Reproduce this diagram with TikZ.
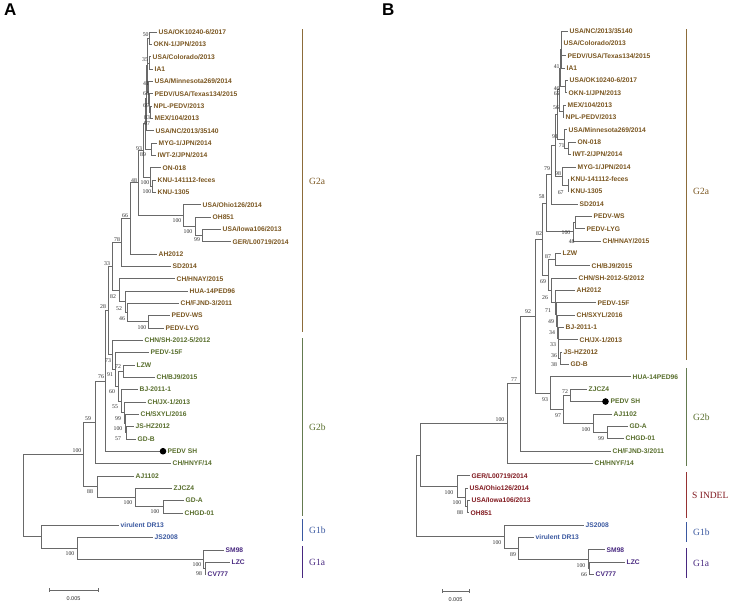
\documentclass[tikz,border=0pt]{standalone}
\usepackage{fontspec}
\setmainfont{Liberation Serif}
\newfontfamily\lsans{Liberation Sans}
\usetikzlibrary{calc}
\definecolor{cA}{RGB}{122,86,32}
\definecolor{cB}{RGB}{88,110,44}
\definecolor{cBl}{RGB}{58,88,160}
\definecolor{cPu}{RGB}{72,40,128}
\definecolor{cRd}{RGB}{128,24,30}
\definecolor{brc}{RGB}{105,105,105}
\definecolor{bsc}{RGB}{45,45,45}
\definecolor{barA}{RGB}{140,108,58}
\definecolor{barB}{RGB}{100,122,80}
\definecolor{barR}{RGB}{150,50,50}
\tikzset{
  br/.style={draw=brc, line width=0.65pt},
  leaf/.style={anchor=west, inner xsep=1.5pt, inner ysep=0pt, font=\lsans\bfseries\fontsize{6.7}{7}\selectfont, text height=4.8pt, text depth=0pt},
  bsl/.style={inner sep=0pt, text=bsc, font=\fontsize{5.8}{6}\selectfont},
  grp/.style={anchor=west, inner sep=0pt, font=\fontsize{9.5}{10}\selectfont},
  gbar/.style={line width=0.9pt},
  scl/.style={inner sep=0pt, font=\lsans\fontsize{5.5}{6}\selectfont, text=bsc},
  dotpt/.style={fill=black}
}
\newcommand\lfA[5]{\node[leaf,text=#5] (#1) at (#3,{32+12.33*#2}) {#4};}
\newcommand\lfB[5]{\node[leaf,text=#5] (#1) at (#3,{31+12.35*#2}) {#4};}
\newcommand\nd[5]{%
  \coordinate (tmpm) at ($(#3.center)!.5!(#4.center)$);
  \coordinate (#1) at ($(#2,0)!(tmpm)!(#2,10)$);
  \foreach \c in {#5}{\draw[br] (#1) |- (\c);}%
}
\newcommand\bs[3]{\node[bsl] at (#1,#2) {#3};}
\begin{document}
\begin{tikzpicture}[x=1pt,y=-1pt]
\useasboundingbox (0,0) rectangle (731,603);
\fill[white] (0,0) rectangle (731,603);
% panel letters
\node[anchor=north west, inner sep=0pt, font=\lsans\bfseries\fontsize{17}{17}\selectfont] (pA) at (4,4) {A};
\node[anchor=north west, inner sep=0pt, font=\lsans\bfseries\fontsize{17}{17}\selectfont] (pB) at (382,4) {B};
% ================= Panel A leaves
\lfA{A0}{0}{157}{USA/OK10240-6/2017}{cA}
\lfA{A1}{1}{152}{OKN-1/JPN/2013}{cA}
\lfA{A2}{2}{151}{USA/Colorado/2013}{cA}
\lfA{A3}{3}{153}{IA1}{cA}
\lfA{A4}{4}{153}{USA/Minnesota269/2014}{cA}
\lfA{A5}{5}{153}{PEDV/USA/Texas134/2015}{cA}
\lfA{A6}{6}{152}{NPL-PEDV/2013}{cA}
\lfA{A7}{7}{153}{MEX/104/2013}{cA}
\lfA{A8}{8}{154}{USA/NC/2013/35140}{cA}
\lfA{A9}{9}{157}{MYG-1/JPN/2014}{cA}
\lfA{A10}{10}{156}{IWT-2/JPN/2014}{cA}
\lfA{A11}{11}{161}{ON-018}{cA}
\lfA{A12}{12}{156}{KNU-141112-feces}{cA}
\lfA{A13}{13}{156}{KNU-1305}{cA}
\lfA{A14}{14}{201}{USA/Ohio126/2014}{cA}
\lfA{A15}{15}{211}{OH851}{cA}
\lfA{A16}{16}{221}{USA/Iowa106/2013}{cA}
\lfA{A17}{17}{231}{GER/L00719/2014}{cA}
\lfA{A18}{18}{157}{AH2012}{cA}
\lfA{A19}{19}{171}{SD2014}{cA}
\lfA{A20}{20}{175}{CH/HNAY/2015}{cA}
\lfA{A21}{21}{188}{HUA-14PED96}{cA}
\lfA{A22}{22}{179}{CH/FJND-3/2011}{cA}
\lfA{A23}{23}{170}{PEDV-WS}{cA}
\lfA{A24}{24}{164}{PEDV-LYG}{cA}
\lfA{A25}{25}{143}{CHN/SH-2012-5/2012}{cB}
\lfA{A26}{26}{149}{PEDV-15F}{cB}
\lfA{A27}{27}{135}{LZW}{cB}
\lfA{A28}{28}{155}{CH/BJ9/2015}{cB}
\lfA{A29}{29}{138}{BJ-2011-1}{cB}
\lfA{A30}{30}{146}{CH/JX-1/2013}{cB}
\lfA{A31}{31}{139}{CH/SXYL/2016}{cB}
\lfA{A32}{32}{134}{JS-HZ2012}{cB}
\lfA{A33}{33}{136}{GD-B}{cB}
\coordinate (A34) at (163,{32+12.33*34});
\node[leaf,text=cB] (A34t) at (166,{32+12.33*34}) {PEDV SH};
\lfA{A35}{35}{171}{CH/HNYF/14}{cB}
\lfA{A36}{36}{134}{AJ1102}{cB}
\lfA{A37}{37}{172}{ZJCZ4}{cB}
\lfA{A38}{38}{184}{GD-A}{cB}
\lfA{A39}{39}{183}{CHGD-01}{cB}
\lfA{A40}{40}{119}{virulent DR13}{cBl}
\lfA{A41}{41}{153}{JS2008}{cBl}
\lfA{A42}{42}{224}{SM98}{cPu}
\lfA{A43}{43}{230}{LZC}{cPu}
\lfA{A44}{44}{206}{CV777}{cPu}
% ================= Panel A internal nodes
\nd{a50}{149.5}{A0}{A1}{A0,A1}
\nd{a35}{149.5}{A2}{A3}{A2,A3}
\nd{a83}{150.5}{A6}{A7}{A6,A7}
\nd{a69}{149.5}{A5}{a83}{A5,a83}
\nd{a64}{148.5}{A4}{a69}{A4,a69}
\nd{a41}{147.5}{a50}{a64}{a50,a35,a64}
\nd{a97}{146.5}{a41}{A8}{a41,A8}
\nd{a89}{151}{A9}{A10}{A9,A10}
\nd{aT}{145}{a97}{a89}{a97,a89}
\nd{a100k}{152}{A12}{A13}{A12,A13}
\nd{aON}{150}{A11}{a100k}{A11,a100k}
\nd{a93}{143}{aT}{aON}{aT,aON}
\nd{aIow}{202}{A16}{A17}{A16,A17}
\nd{aOH}{195}{A15}{aIow}{A15,aIow}
\nd{aOhio}{183}{A14}{aOH}{A14,aOH}
\nd{a48}{138}{a93}{aOhio}{a93,aOhio}
\nd{a66}{130}{a48}{A18}{a48,A18}
\nd{a78}{121}{a66}{A19}{a66,A19}
\nd{aWS}{148}{A23}{A24}{A23,A24}
\nd{a46}{127}{A22}{aWS}{A22,aWS}
\nd{a52}{125}{A21}{a46}{A21,a46}
\nd{a82}{119}{A20}{a52}{A20,a52}
\nd{a33}{112}{a78}{a82}{a78,a82}
\nd{a57}{126}{A32}{A33}{A32,A33}
\nd{a100s}{125}{A31}{a57}{A31,a57}
\nd{a99}{124}{A30}{a100s}{A30,a100s}
\nd{a55}{121}{A29}{a99}{A29,a99}
\nd{a72}{123}{A27}{A28}{A27,A28}
\nd{a60}{118}{a72}{a55}{a72,a55}
\nd{a91}{115.5}{A26}{a60}{A26,a60}
\nd{a73}{112}{A25}{a91}{A25,a91}
\nd{a28}{108.5}{a33}{a73}{a33,a73}
\nd{a76}{105.5}{a28}{A34}{a28,A34}
\nd{a59}{95}{a76}{A35}{a76,A35}
\nd{aGD}{163}{A38}{A39}{A38,A39}
\nd{aZJ}{135}{A37}{aGD}{A37,aGD}
\nd{a88}{97}{A36}{aZJ}{A36,aZJ}
\nd{aG2}{83}{a59}{a88}{a59,a88}
\nd{aLC}{205}{A43}{A44}{A43,A44}
\nd{aG1a}{203}{A42}{aLC}{A42,aLC}
\nd{aJS}{77}{A41}{aG1a}{A41,aG1a}
\nd{aG1}{41}{A40}{aJS}{A40,aJS}
\nd{aR}{23}{aG2}{aG1}{aG2,aG1}
\fill[dotpt] (A34) circle (3.3);
% bootstrap A
\bs{145.7}{35}{50}\bs{145}{60}{35}\bs{146}{84}{41}\bs{146}{94}{64}
\bs{146}{106}{69}\bs{147}{118}{83}\bs{147}{124}{97}\bs{139}{149}{93}
\bs{143}{155}{89}\bs{145}{183}{100}\bs{147}{192}{100}\bs{134}{181}{48}
\bs{125}{216}{66}\bs{177}{221}{100}\bs{188}{232}{100}\bs{197}{240}{99}
\bs{117}{240}{78}\bs{107}{264}{33}\bs{113}{297}{82}\bs{103}{307}{28}
\bs{119}{309}{52}\bs{122}{319}{46}\bs{142}{328}{100}\bs{108}{361}{73}
\bs{118}{367}{72}\bs{110}{375}{91}\bs{101}{377}{76}\bs{112}{392}{60}
\bs{115}{407}{55}\bs{118}{419}{99}\bs{88}{419}{59}\bs{118}{429}{100}
\bs{118}{439}{57}\bs{77}{451}{100}\bs{90}{492}{88}\bs{128}{503}{100}
\bs{155}{512}{100}\bs{70}{554}{100}\bs{197}{565}{100}\bs{199}{574}{98}
% scale bar A
\coordinate (sA1) at (49,590); \coordinate (sA2) at (98,590);
\draw[br] (sA1) -- (sA2);
\draw[br] (sA1) ++(0,-2) -- ++(0,4);
\draw[br] (sA2) ++(0,-2) -- ++(0,4);
\node[scl] (sAl) at (73.5,599) {0.005};
% group bars A
\draw[gbar,draw=barA] (302,29) -- (302,332);
\node[grp,text=cA] (gA1) at (309,181) {G2a};
\draw[gbar,draw=barB] (302,338) -- (302,516);
\node[grp,text=cB] (gA2) at (309,427) {G2b};
\draw[gbar,draw=cBl] (302,519) -- (302,541);
\node[grp,text=cBl] (gA3) at (309,530) {G1b};
\draw[gbar,draw=cPu] (302,546) -- (302,578);
\node[grp,text=cPu] (gA4) at (309,562) {G1a};
% ================= Panel B leaves
\lfB{B0}{0}{568}{USA/NC/2013/35140}{cA}
\lfB{B1}{1}{562}{USA/Colorado/2013}{cA}
\lfB{B2}{2}{566}{PEDV/USA/Texas134/2015}{cA}
\lfB{B3}{3}{565}{IA1}{cA}
\lfB{B4}{4}{568}{USA/OK10240-6/2017}{cA}
\lfB{B5}{5}{567}{OKN-1/JPN/2013}{cA}
\lfB{B6}{6}{566}{MEX/104/2013}{cA}
\lfB{B7}{7}{564}{NPL-PEDV/2013}{cA}
\lfB{B8}{8}{567}{USA/Minnesota269/2014}{cA}
\lfB{B9}{9}{576}{ON-018}{cA}
\lfB{B10}{10}{571}{IWT-2/JPN/2014}{cA}
\lfB{B11}{11}{576}{MYG-1/JPN/2014}{cA}
\lfB{B12}{12}{569}{KNU-141112-feces}{cA}
\lfB{B13}{13}{569}{KNU-1305}{cA}
\lfB{B14}{14}{578}{SD2014}{cA}
\lfB{B15}{15}{592}{PEDV-WS}{cA}
\lfB{B16}{16}{585}{PEDV-LYG}{cA}
\lfB{B17}{17}{601}{CH/HNAY/2015}{cA}
\lfB{B18}{18}{561}{LZW}{cA}
\lfB{B19}{19}{590}{CH/BJ9/2015}{cA}
\lfB{B20}{20}{577}{CHN/SH-2012-5/2012}{cA}
\lfB{B21}{21}{575}{AH2012}{cA}
\lfB{B22}{22}{596}{PEDV-15F}{cA}
\lfB{B23}{23}{575}{CH/SXYL/2016}{cA}
\lfB{B24}{24}{564}{BJ-2011-1}{cA}
\lfB{B25}{25}{578}{CH/JX-1/2013}{cA}
\lfB{B26}{26}{562}{JS-HZ2012}{cA}
\lfB{B27}{27}{569}{GD-B}{cA}
\lfB{B28}{28}{631}{HUA-14PED96}{cB}
\lfB{B29}{29}{587}{ZJCZ4}{cB}
\coordinate (B30) at (605.5,{31+12.35*30});
\node[leaf,text=cB] (B30t) at (609,{31+12.35*30}) {PEDV SH};
\lfB{B31}{31}{612}{AJ1102}{cB}
\lfB{B32}{32}{628}{GD-A}{cB}
\lfB{B33}{33}{624}{CHGD-01}{cB}
\lfB{B34}{34}{611}{CH/FJND-3/2011}{cB}
\lfB{B35}{35}{593}{CH/HNYF/14}{cB}
\lfB{B36}{36}{470}{GER/L00719/2014}{cRd}
\lfB{B37}{37}{468}{USA/Ohio126/2014}{cRd}
\lfB{B38}{38}{470}{USA/Iowa106/2013}{cRd}
\lfB{B39}{39}{469}{OH851}{cRd}
\lfB{B40}{40}{584}{JS2008}{cBl}
\lfB{B41}{41}{534}{virulent DR13}{cBl}
\lfB{B42}{42}{605}{SM98}{cPu}
\lfB{B43}{43}{625}{LZC}{cPu}
\lfB{B44}{44}{594}{CV777}{cPu}
% ================= Panel B internal nodes
\nd{b41}{561}{B0}{B3}{B0,B1,B2,B3}
\nd{b46}{565}{B4}{B5}{B4,B5}
\nd{b65}{560}{b41}{b46}{b41,b46}
\nd{b56}{563}{B6}{B7}{B6,B7}
\nd{bTop}{559}{b65}{b56}{b65,b56}
\nd{bOI}{568}{B9}{B10}{B9,B10}
\nd{b71}{564}{B8}{bOI}{B8,bOI}
\nd{b91}{557.5}{bTop}{b71}{bTop,b71}
\nd{b67}{568}{B12}{B13}{B12,B13}
\nd{b98}{562}{B11}{b67}{B11,b67}
\nd{b9x}{555}{b91}{b98}{b91,b98}
\nd{b79}{551}{b9x}{B14}{b9x,B14}
\nd{bWS}{575}{B15}{B16}{B15,B16}
\nd{b48}{573}{bWS}{B17}{bWS,B17}
\nd{b58}{546}{b79}{b48}{b79,b48}
\nd{b87}{555}{B18}{B19}{B18,B19}
\nd{b38}{560}{B26}{B27}{B26,B27}
\nd{b36}{558.5}{B25}{b38}{B25,b38}
\nd{b33}{558}{B24}{b36}{B24,b36}
\nd{b34}{557}{B23}{b33}{B23,b33}
\nd{b49}{556}{B22}{b34}{B22,b34}
\nd{b71b}{555}{B21}{b49}{B21,b49}
\nd{b26}{551}{B20}{b71b}{B20,b71b}
\nd{b69}{548}{b87}{b26}{b87,b26}
\nd{b82}{542}{b58}{b69}{b58,b69}
\nd{b72}{570}{B29}{B30}{B29,B30}
\nd{bGD}{607}{B32}{B33}{B32,B33}
\nd{bAJ}{593}{B31}{bGD}{B31,bGD}
\nd{b97}{563}{b72}{bAJ}{b72,bAJ}
\nd{b93}{550}{B28}{b97}{B28,b97}
\nd{b92}{535}{b82}{b93}{b82,b93}
\nd{b77}{520}{b92}{B34}{b92,B34}
\nd{bG2}{507}{b77}{B35}{b77,B35}
\nd{bIO}{467}{B38}{B39}{B38,B39}
\nd{bS2}{465}{B37}{bIO}{B37,bIO}
\nd{bS}{457}{B36}{bS2}{B36,bS2}
\nd{bBig}{420}{bG2}{bS}{bG2,bS}
\nd{bLC}{589.5}{B43}{B44}{B43,B44}
\nd{bG1a}{588}{B42}{bLC}{B42,bLC}
\nd{bG1b}{518}{B41}{bG1a}{B41,bG1a}
\nd{bG1}{504}{B40}{bG1b}{B40,bG1b}
\nd{bR}{416}{bBig}{bG1}{bBig,bG1}
\fill[dotpt] (B30) circle (3.3);
% bootstrap B
\bs{556.7}{67}{41}\bs{556.7}{89}{46}\bs{556.7}{94}{65}\bs{556}{108}{56}
\bs{555}{137}{91}\bs{561.7}{146}{71}\bs{547}{169}{79}\bs{558}{174}{98}
\bs{560.7}{193}{67}\bs{541.7}{197}{58}\bs{566}{233}{100}\bs{539}{234}{82}
\bs{571.7}{241.7}{48}\bs{548}{257}{87}\bs{543}{282}{69}\bs{545}{298}{26}
\bs{548}{311}{71}\bs{528}{312}{92}\bs{551}{322}{49}\bs{552}{333}{34}
\bs{553}{345}{33}\bs{554}{356}{36}\bs{554}{365}{38}\bs{514}{380}{77}
\bs{565}{392}{72}\bs{545}{400}{93}\bs{558}{416}{97}\bs{500}{420}{100}
\bs{586}{430}{100}\bs{601}{439}{99}\bs{449}{493}{100}\bs{457}{503}{100}
\bs{460}{513}{88}\bs{497}{543}{100}\bs{513}{555}{89}\bs{581}{566}{100}
\bs{584}{575}{66}
% scale bar B
\coordinate (sB1) at (442,591); \coordinate (sB2) at (469,591);
\draw[br] (sB1) -- (sB2);
\draw[br] (sB1) ++(0,-2) -- ++(0,4);
\draw[br] (sB2) ++(0,-2) -- ++(0,4);
\node[scl] (sBl) at (455.5,600) {0.005};
% group bars B
\draw[gbar,draw=barA] (686,29) -- (686,360);
\node[grp,text=cA] (gB1) at (693,191) {G2a};
\draw[gbar,draw=barB] (686,368) -- (686,466);
\node[grp,text=cB] (gB2) at (693,417) {G2b};
\draw[gbar,draw=barR] (686,472) -- (686,518);
\node[grp,text=cRd] (gB3) at (692,495) {S INDEL};
\draw[gbar,draw=cBl] (686,522) -- (686,542);
\node[grp,text=cBl] (gB4) at (693,532) {G1b};
\draw[gbar,draw=cPu] (686,548) -- (686,578);
\node[grp,text=cPu] (gB5) at (693,563) {G1a};
\end{tikzpicture}
\end{document}
